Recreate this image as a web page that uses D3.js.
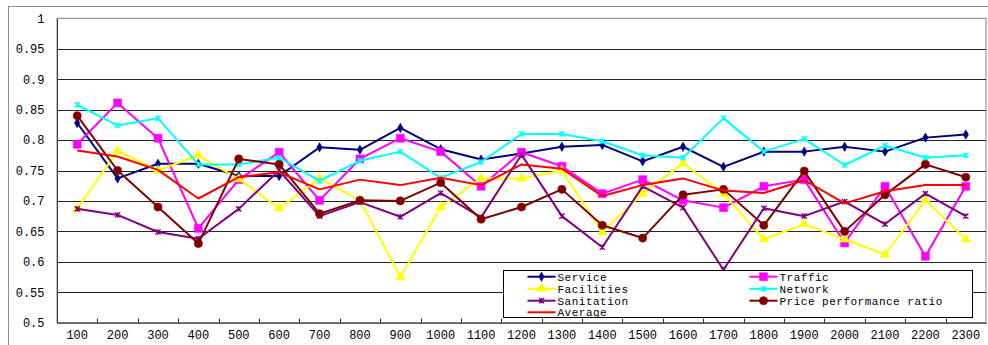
<!DOCTYPE html>
<html>
<head>
<meta charset="utf-8">
<script src="https://cdn.jsdelivr.net/npm/d3@7"></script>
<style>
  html, body { margin: 0; padding: 0; background: #fff; }
  svg { display: block; }
  text { font-family: "Liberation Mono", "DejaVu Sans Mono", monospace; font-size: 12px; fill: #000; }
  .legend text { font-size: 11px; letter-spacing: 0.5px; }
</style>
</head>
<body>
<svg id="chart" width="988" height="345"></svg>
<script>
// Categories along the x axis
const categories = ["100","200","300","400","500","600","700","800","900","1000","1100","1200",
                    "1300","1400","1500","1600","1700","1800","1900","2000","2100","2200","2300"];

// Series values
const service = [0.828,0.737,0.761,0.761,0.741,0.741,0.788,0.784,0.820,0.785,0.768,0.778,
                 0.789,0.792,0.765,0.789,0.756,0.781,0.781,0.789,0.781,0.804,0.809];
const traffic = [0.793,0.861,0.803,0.655,0.735,0.780,0.701,0.769,0.803,0.781,0.724,0.780,
                 0.757,0.712,0.735,0.701,0.689,0.724,0.735,0.631,0.724,0.609,0.724];
const facilities = [0.687,0.782,0.750,0.775,0.736,0.688,0.737,0.701,0.575,0.690,0.737,0.737,
                    0.750,0.649,0.712,0.762,0.712,0.637,0.662,0.637,0.612,0.701,0.637];
const network = [0.858,0.824,0.836,0.760,0.760,0.771,0.733,0.766,0.781,0.738,0.764,0.810,
                 0.810,0.798,0.775,0.771,0.836,0.781,0.802,0.759,0.791,0.771,0.775];
const sanitation = [0.687,0.677,0.649,0.638,0.687,0.750,0.675,0.698,0.674,0.713,0.673,0.776,
                    0.675,0.624,0.724,0.689,0.587,0.688,0.675,0.699,0.662,0.712,0.675];
const pricePerf = [0.840,0.750,0.690,0.630,0.769,0.760,0.679,0.701,0.700,0.730,0.670,0.690,
                   0.719,0.660,0.639,0.710,0.719,0.660,0.749,0.650,0.710,0.760,0.739];
const average = [0.783,0.773,0.751,0.704,0.739,0.747,0.719,0.735,0.726,0.738,0.726,0.760,
                 0.753,0.708,0.726,0.737,0.717,0.713,0.734,0.696,0.716,0.726,0.726];

// Y axis ticks
const yTicks = [0.5,0.55,0.6,0.65,0.7,0.75,0.8,0.85,0.9,0.95,1];
const yTickLabels = ["0.5","0.55","0.6","0.65","0.7","0.75","0.8","0.85","0.9","0.95","1"];

// Asterisk-style marker (x with a vertical stroke)
const symbolStar = {
  draw(ctx, size) {
    const r = Math.sqrt(size) / 2;
    ctx.moveTo(-r, -r); ctx.lineTo(r, r);
    ctx.moveTo(r, -r); ctx.lineTo(-r, r);
    ctx.moveTo(0, -r); ctx.lineTo(0, r);
  }
};

const series = [
  { name: "Service", values: service, color: "#000080", symbol: d3.symbolDiamond, size: 26, fill: true },
  { name: "Traffic", values: traffic, color: "#FF00FF", symbol: d3.symbolSquare, size: 64, fill: true },
  { name: "Facilities", values: facilities, color: "#FFFF00", symbol: d3.symbolTriangle, size: 40, fill: true },
  { name: "Network", values: network, color: "#00FFFF", symbol: symbolStar, size: 28, fill: false },
  { name: "Sanitation", values: sanitation, color: "#800080", symbol: symbolStar, size: 28, fill: false },
  { name: "Price performance ratio", values: pricePerf, color: "#800000", symbol: d3.symbolCircle, size: 52, fill: true },
  { name: "Average", values: average, color: "#FF0000", symbol: null }
];

const svg = d3.select("#chart");
const plot = { left: 57, right: 986, top: 18.3, bottom: 322.7 };

const x = d3.scaleBand().domain(categories).range([plot.left, plot.right]).paddingInner(0).paddingOuter(0);
const y = d3.scaleLinear().domain([0.5, 1]).range([plot.bottom, plot.top]);
const cx = c => x(c) + x.bandwidth() / 2;

// Outer chart frame
svg.append("rect")
  .attr("x", 8.5).attr("y", 6.5).attr("width", 1100).attr("height", 400)
  .attr("fill", "#fff").attr("stroke", "#8c8c8c").attr("stroke-width", 1);

// Plot area frame
svg.append("rect")
  .attr("x", plot.left).attr("y", plot.top)
  .attr("width", plot.right - plot.left).attr("height", plot.bottom - plot.top)
  .attr("fill", "#fff").attr("stroke", "#808080").attr("stroke-width", 1);

// Horizontal gridlines
svg.append("g").selectAll("line")
  .data(yTicks.filter(v => v > 0.5 && v < 1))
  .join("line")
  .attr("x1", plot.left).attr("x2", plot.right)
  .attr("y1", d => Math.round(y(d)) + 0.5).attr("y2", d => Math.round(y(d)) + 0.5)
  .attr("stroke", "#262626").attr("stroke-width", 1);

// Y axis
const yAxis = d3.axisLeft(y)
  .tickValues(yTicks)
  .tickFormat((d, i) => yTickLabels[i])
  .tickSizeInner(0).tickSizeOuter(0).tickPadding(12.5);
const gy = svg.append("g").attr("transform", `translate(${plot.left},0)`).call(yAxis);
gy.select(".domain").attr("stroke", "#404040");
gy.attr("font-family", null).attr("font-size", null);
gy.selectAll("text").attr("fill", "#000");

// X axis with labels at category centres
const xAxis = d3.axisBottom(x).tickSizeInner(0).tickSizeOuter(0).tickPadding(8);
const gx = svg.append("g").attr("transform", `translate(0,${plot.bottom})`).call(xAxis);
gx.select(".domain").attr("stroke", "#262626");
gx.attr("font-family", null).attr("font-size", null);
gx.selectAll("text").attr("fill", "#000");

// Tick marks between categories, pointing into the plot
svg.append("g").selectAll("line")
  .data(categories.slice(1))
  .join("line")
  .attr("x1", d => Math.round(x(d)) + 0.5).attr("x2", d => Math.round(x(d)) + 0.5)
  .attr("y1", plot.bottom).attr("y2", plot.bottom - 4)
  .attr("stroke", "#262626").attr("stroke-width", 1);

// Series lines and markers
const line = d3.line().x((d, i) => cx(categories[i])).y(d => y(d));

series.forEach(s => {
  const g = svg.append("g");
  g.append("path")
    .attr("d", line(s.values))
    .attr("fill", "none")
    .attr("stroke", s.color)
    .attr("stroke-width", 2)
    .attr("stroke-linejoin", "round");
  if (s.symbol) {
    g.selectAll("path.m")
      .data(s.values)
      .join("path")
      .attr("class", "m")
      .attr("transform", (d, i) => `translate(${cx(categories[i])},${y(d)})`)
      .attr("d", d3.symbol().type(s.symbol).size(s.size))
      .attr("fill", s.fill ? s.color : "none")
      .attr("stroke", s.color)
      .attr("stroke-width", s.fill ? 0.5 : 1.3);
  }
});

// Legend
const legend = svg.append("g").attr("class", "legend");
legend.append("rect")
  .attr("x", 503.5).attr("y", 270.5).attr("width", 469).attr("height", 47)
  .attr("fill", "#fff").attr("stroke", "#000").attr("stroke-width", 1);

const rowY = [276.7, 288.8, 300.7, 312.3];
const colX = [527.5, 749.5];
series.forEach((s, i) => {
  const col = i % 2, row = Math.floor(i / 2);
  const lx = colX[col], ly = rowY[row];
  const item = legend.append("g");
  item.append("line")
    .attr("x1", lx).attr("x2", lx + 28).attr("y1", ly).attr("y2", ly)
    .attr("stroke", s.color).attr("stroke-width", 2);
  if (s.symbol) {
    item.append("path")
      .attr("transform", `translate(${lx + 14},${ly})`)
      .attr("d", d3.symbol().type(s.symbol).size(s.size))
      .attr("fill", s.fill ? s.color : "none")
      .attr("stroke", s.color)
      .attr("stroke-width", s.fill ? 0.5 : 1.3);
  }
  item.append("text")
    .attr("x", lx + 30).attr("y", ly).attr("dy", "0.35em")
    .text(s.name);
});
</script>
</body>
</html>
